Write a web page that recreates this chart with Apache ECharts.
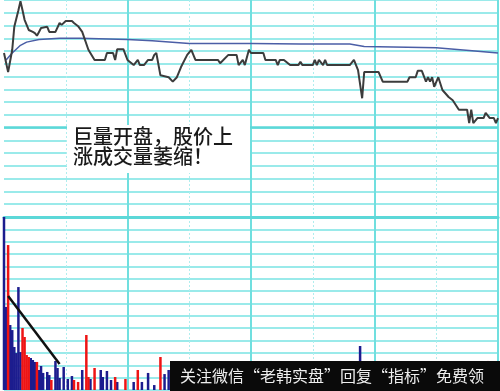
<!DOCTYPE html>
<html>
<head>
<meta charset="utf-8">
<script src="https://cdn.jsdelivr.net/npm/echarts@6/dist/echarts.min.js"></script>
<style>
html,body{margin:0;padding:0;background:#fff;}
#c{width:500px;height:391px;}
</style>
</head>
<body>
<div id="c"></div>
<script>
// ---- data ----
const priceTimes  = [0,2,4,5,7,8,9,10,12,14,15,16,17,18,21,22,25,27,28,30,33,34,36,38,41,44,49,50,53,54,55,58,60,63,65,66,68,70,72,73,74,76,80,82,84,86,89,91,93,104,105,109,113,114,116,117,119,120,126,127,132,133,134,136,139,143,144,145,150,151,152,153,155,156,157,168,170,172,174,175,182,184,196,197,200,201,203,205,206,207,208,209,211,213,216,218,221,225,226,227,228,230,233,234,236,238,239,240];
const priceValues = [10.117,10.087,10.122,10.158,10.184,10.198,10.184,10.169,10.153,10.150,10.148,10.144,10.150,10.156,10.158,10.150,10.150,10.164,10.161,10.167,10.167,10.164,10.159,10.150,10.122,10.106,10.106,10.117,10.117,10.106,10.123,10.123,10.106,10.098,10.106,10.098,10.098,10.106,10.106,10.114,10.117,10.082,10.079,10.072,10.079,10.095,10.114,10.122,10.106,10.106,10.101,10.114,10.114,10.098,10.106,10.098,10.122,10.117,10.117,10.106,10.106,10.098,10.106,10.106,10.098,10.098,10.103,10.098,10.098,10.106,10.098,10.106,10.098,10.106,10.098,10.098,10.106,10.090,10.046,10.087,10.087,10.072,10.072,10.079,10.079,10.089,10.089,10.072,10.079,10.072,10.079,10.064,10.079,10.059,10.048,10.043,10.028,10.028,10.007,10.028,10.007,10.015,10.015,10.023,10.015,10.015,10.007,10.015];
const avgTimes  = [1,4,8,11,17,27,37,60,72,90,120,144,168,175,210,226,240];
const avgValues = [10.106,10.117,10.129,10.134,10.138,10.140,10.140,10.138,10.136,10.132,10.132,10.131,10.131,10.127,10.125,10.121,10.117];
const prevClose = 10.00;
const blueTimes   = [0,1,3,4,5,6,7,8,13,14,15,17,18,19,21,22,25,26,27,29,31,33,38,42,47,48,50,52,55,63,67,70,73,78,80,173];
const blueVolumes = [1400,672,526,485,348,299,833,307,259,243,227,162,194,138,146,121,235,178,97,186,89,113,162,89,162,105,154,81,65,65,65,138,40,129,162,356];
const redTimes    = [2,9,10,11,12,16,23,34,36,40,41,44,54,59,65,76,235];
const redVolumes  = [1173,502,429,283,267,227,81,81,65,445,105,178,105,89,162,267,235];
const trendTimes   = [2,27];
const trendVolumes = [760,210];
const noteLines = ['巨量开盘，股价上','涨成交量萎缩！'];
const watermark = '关注微信“老韩实盘”回复“指标”免费领';

// ---- styles ----
const hColor = '#9aeaea';
const vSolid = '#70dfdf';
const vDash  = '#b0eeee';
const T = 'transparent';

function xAxes(gridIndex){
  return [
    {type:'value', gridIndex, min:0, max:240, interval:60,
     axisLine:{show: gridIndex===0, onZero:false, lineStyle:{color:'#5cd8d8', width:3}},
     axisTick:{show:false}, axisLabel:{show:false},
     splitLine:{show:true, lineStyle:{color:[T,vSolid,vSolid,vSolid,vSolid], width:2}}},
    {type:'value', gridIndex, min:0, max:240, interval:30,
     axisLine:{show:false}, axisTick:{show:false}, axisLabel:{show:false},
     splitLine:{show:true, lineStyle:{color:[T,vDash,T,vDash,T,vDash,T,vDash,T], width:1, type:[2,2]}}}
  ];
}

const chart = echarts.init(document.getElementById('c'), null, {renderer:'canvas'});
chart.setOption({
  animation:false,
  backgroundColor:'#ffffff',
  grid:[
    {left:4, right:2, top:0, height:217},
    {left:4, right:2, top:217, height:173}
  ],
  xAxis: [...xAxes(0), ...xAxes(1)],
  yAxis:[
    {type:'value', gridIndex:0, min:9.86, max:10.20, interval:0.02,
     axisLine:{show:false}, axisTick:{show:false}, axisLabel:{show:false},
     splitLine:{show:true, lineStyle:{color:hColor, width:2}}},
    {type:'value', gridIndex:1, min:0, max:1400, interval:100,
     axisLine:{show:false}, axisTick:{show:false}, axisLabel:{show:false},
     splitLine:{show:true, lineStyle:{color:hColor, width:2}}}
  ],
  series:[
    {type:'line', xAxisIndex:0, yAxisIndex:0, symbol:'none', z:3,
     data: avgTimes.map((t,i)=>[t, avgValues[i]]),
     lineStyle:{color:'#4b5ea6', width:1.5}},
    {type:'line', xAxisIndex:0, yAxisIndex:0, symbol:'none', z:4,
     data: priceTimes.map((t,i)=>[t, priceValues[i]]),
     lineStyle:{color:'#3c3c3c', width:2},
     markLine:{silent:true, symbol:'none', label:{show:false},
       lineStyle:{color:'#5cd8d8', width:2.5, type:'solid'},
       data:[{yAxis:prevClose}]}},
    {type:'bar', xAxisIndex:2, yAxisIndex:1, barWidth:2.5, barGap:'-100%',
     data: blueTimes.map((t,i)=>[t, blueVolumes[i]]),
     itemStyle:{color:'#1c1c8e'}},
    {type:'bar', xAxisIndex:2, yAxisIndex:1, barWidth:2.5, barGap:'-100%',
     data: redTimes.map((t,i)=>[t, redVolumes[i]]),
     itemStyle:{color:'#ee1414'}},
    {type:'line', xAxisIndex:2, yAxisIndex:1, symbol:'none', z:5,
     data: trendTimes.map((t,i)=>[t, trendVolumes[i]]),
     lineStyle:{color:'#111111', width:2.5}}
  ],
  graphic:[
    {type:'rect', left:67, top:125, shape:{width:183, height:48}, style:{fill:'#ffffff'}, z:10},
    {type:'text', left:73, top:126, z:11,
     style:{text:noteLines.join('\n'), fill:'#1a1a1a',
       font:'500 20px "Noto Sans CJK SC", sans-serif', lineHeight:20}},
    {type:'rect', left:170, top:361, shape:{width:330, height:30}, style:{fill:'#0a0a0a'}, z:20},
    {type:'text', left:180, top:368, z:21,
     style:{text:watermark, fill:'#eeeeee', font:'16px "Noto Sans CJK SC", sans-serif'}}
  ]
});
</script>
</body>
</html>
